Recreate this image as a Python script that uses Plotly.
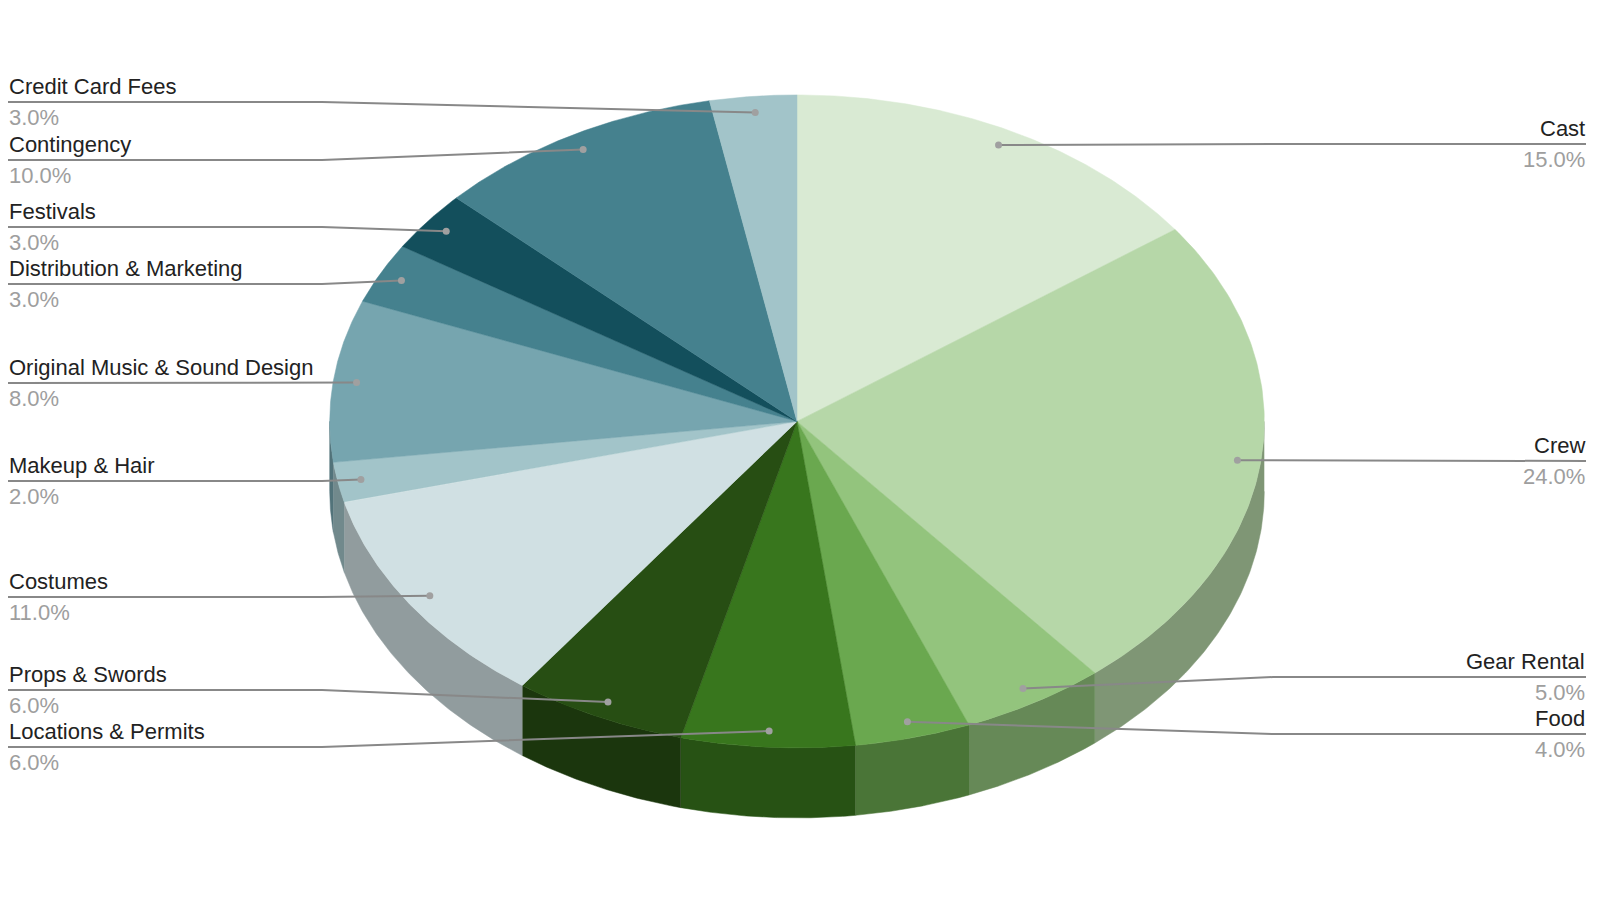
"""3D-style budget pie — drawn as projected slices on pixel-mapped axes."""

import numpy as np
import plotly.graph_objects as go

# Data
categories = [
    "Cast", "Crew", "Gear Rental", "Food", "Locations & Permits", "Props & Swords",
    "Costumes", "Makeup & Hair", "Original Music & Sound Design",
    "Distribution & Marketing", "Festivals", "Contingency", "Credit Card Fees",
]
shares = [15, 24, 5, 4, 6, 6, 11, 2, 8, 3, 3, 10, 3]
colors = [
    "#d9ead3", "#b6d7a8", "#93c47d", "#6aa84f", "#38761d", "#274e13",
    "#d0e0e3", "#a2c4c9", "#76a5af", "#45818e", "#134f5c", "#45818e", "#a2c4c9",
]

# Label layout (which side and the y of each leader line, in pixels)
label_side = ["right", "right", "right", "right", "left", "left", "left",
              "left", "left", "left", "left", "left", "left"]
label_y = [144, 461, 677, 734, 747, 690, 597, 481, 383, 284, 227, 160, 102]

# Geometry of the projected pie (pixels)
CX, CY, RX, RY, DEPTH = 797, 421.4, 467.3, 326.5, 70
LEFT_X, LEFT_KINK = 8, 322
RIGHT_X, RIGHT_KINK = 1586, 1273
FONT = "Arial, 'Liberation Sans', sans-serif"
PAGE_OFFSET = 8  # default body margin of the page


def darken(hex_color, f=0.7):
    h = hex_color.lstrip("#")
    r, g, b = (int(h[i:i + 2], 16) for i in (0, 2, 4))
    return "#%02x%02x%02x" % (int(r * f), int(g * f), int(b * f))


def ell(theta, r=1.0, dy=0.0):
    return CX + RX * r * np.sin(theta), CY - RY * r * np.cos(theta) + dy


total = sum(shares)
bounds = np.concatenate([[0], np.cumsum(shares)]) / total * 2 * np.pi

fig = go.Figure()

# side walls (front half only: 90..270 degrees)
for i, c in enumerate(colors):
    t0, t1 = max(bounds[i], np.pi / 2), min(bounds[i + 1], 3 * np.pi / 2)
    if t1 <= t0:
        continue
    t = np.linspace(t0, t1, 80)
    xt, yt = ell(t)
    xb, yb = ell(t[::-1], dy=DEPTH)
    fig.add_trace(go.Scatter(
        x=np.concatenate([xt, xb]), y=np.concatenate([yt, yb]),
        fill="toself", fillcolor=darken(c), mode="lines",
        line=dict(color=darken(c), width=0.5), hoverinfo="skip", showlegend=False,
    ))

# top faces
for i, c in enumerate(colors):
    t = np.linspace(bounds[i], bounds[i + 1], 120)
    xa, ya = ell(t)
    fig.add_trace(go.Scatter(
        x=np.concatenate([[CX], xa, [CX]]), y=np.concatenate([[CY], ya, [CY]]),
        fill="toself", fillcolor=c, mode="lines", line=dict(color=c, width=0.5),
        name=categories[i], text=f"{categories[i]}: {shares[i] / total:.1%}",
        hoverinfo="text", showlegend=False,
    ))

# leader lines, dots and labels
for i, name in enumerate(categories):
    mid = (bounds[i] + bounds[i + 1]) / 2
    dx, dy = ell(mid, r=0.95)
    ly = label_y[i]
    if label_side[i] == "left":
        xs, kx, anchor = LEFT_X, LEFT_KINK, "left"
    else:
        xs, kx, anchor = RIGHT_X, RIGHT_KINK, "right"
    fig.add_trace(go.Scatter(
        x=[xs, kx, dx], y=[ly, ly, dy], mode="lines",
        line=dict(color="#888888", width=2), hoverinfo="skip", showlegend=False,
    ))
    fig.add_trace(go.Scatter(
        x=[dx], y=[dy], mode="markers", marker=dict(size=7, color="#a0a0a0"),
        hoverinfo="skip", showlegend=False,
    ))
    fig.add_annotation(
        x=xs, y=ly - 2, text=name, showarrow=False, xanchor=anchor, yanchor="bottom",
        borderpad=0, font=dict(family=FONT, size=22, color="#222222"),
    )
    fig.add_annotation(
        x=xs, y=ly + 2, text=f"{shares[i] / total:.1%}", showarrow=False,
        xanchor=anchor, yanchor="top", borderpad=0,
        font=dict(family=FONT, size=22, color="#9e9e9e"),
    )

fig.update_layout(
    width=1600, height=900, margin=dict(l=0, r=0, t=0, b=0),
    paper_bgcolor="white", plot_bgcolor="white",
    xaxis=dict(range=[PAGE_OFFSET, 1600 + PAGE_OFFSET], visible=False, fixedrange=True),
    yaxis=dict(range=[900 + PAGE_OFFSET, PAGE_OFFSET], visible=False, fixedrange=True),
)

fig.write_html("out.html")
